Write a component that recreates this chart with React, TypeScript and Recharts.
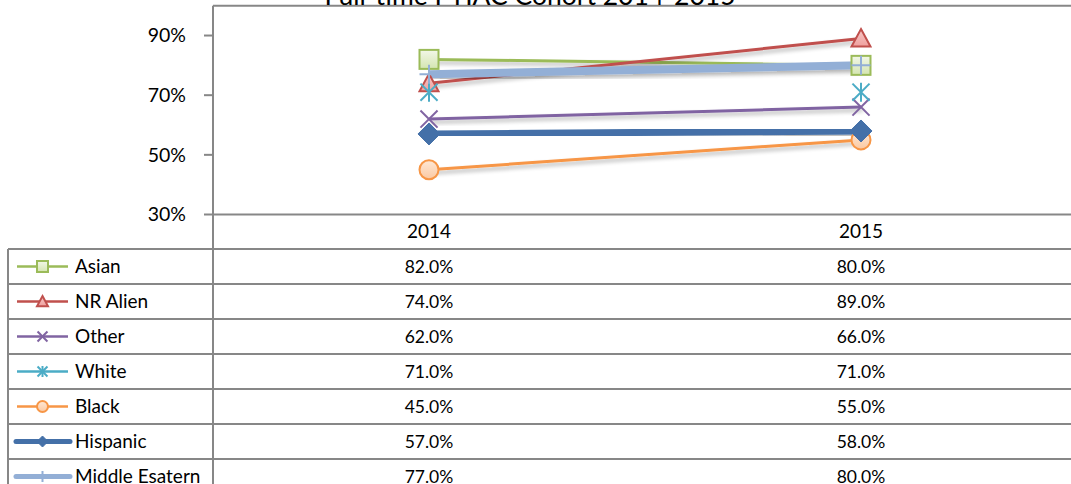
import React from 'react';
import { LineChart, Line, XAxis, YAxis, ReferenceLine } from 'recharts';

const categories = ['2014', '2015'];
const seriesNames = ['Asian', 'NR Alien', 'Other', 'White', 'Black', 'Hispanic', 'Middle Esatern'];
const asian = [82, 80];
const nrAlien = [74, 89];
const other = [62, 66];
const white = [71, 71];
const black = [45, 55];
const hispanic = [57, 58];
const middleEastern = [77, 80];
const yTicks = [30, 50, 70, 90];
const title = 'Full-time FTIAC Cohort 2014-2015';

const seriesValues = [asian, nrAlien, other, white, black, hispanic, middleEastern];

const data = categories.map((c, i) => {
  const row: Record<string, any> = { year: c };
  seriesNames.forEach((n, k) => { row[n] = seriesValues[k][i]; });
  return row;
});

type Style = { color: string; fill: string; width: number; marker: string };
const styles: Style[] = [
  { color: '#9BBB59', fill: 'url(#gGreen)', width: 3, marker: 'square' },
  { color: '#C0504D', fill: 'url(#gRed)', width: 3, marker: 'triangle' },
  { color: '#8064A2', fill: 'none', width: 3, marker: 'x' },
  { color: '#4BACC6', fill: 'none', width: 3, marker: 'star' },
  { color: '#F79646', fill: 'url(#gOrange)', width: 3, marker: 'circle' },
  { color: '#4470A8', fill: '#4470A8', width: 7, marker: 'diamond' },
  { color: '#93AFD6', fill: 'none', width: 8, marker: 'plus' },
];

const FONT = 'Lato, "Open Sans", sans-serif';
const GRID = '#878787';

function marker(kind: string, cx: number, cy: number, s: number, st: Style, key?: any) {
  const h = s / 2;
  const sw = 2;
  switch (kind) {
    case 'square':
      return <rect key={key} x={cx - h} y={cy - h} width={s} height={s} fill={st.fill} stroke={st.color} strokeWidth={sw} />;
    case 'triangle':
      return <polygon key={key} points={`${cx},${cy - h} ${cx + h},${cy + h * 0.85} ${cx - h},${cy + h * 0.85}`} fill={st.fill} stroke={st.color} strokeWidth={sw} strokeLinejoin="miter" />;
    case 'x':
      return (
        <g key={key} stroke={st.color} strokeWidth={sw}>
          <line x1={cx - h * 0.9} y1={cy - h * 0.9} x2={cx + h * 0.9} y2={cy + h * 0.9} />
          <line x1={cx - h * 0.9} y1={cy + h * 0.9} x2={cx + h * 0.9} y2={cy - h * 0.9} />
        </g>
      );
    case 'star':
      return (
        <g key={key} stroke={st.color} strokeWidth={sw}>
          <line x1={cx - h * 0.9} y1={cy - h * 0.9} x2={cx + h * 0.9} y2={cy + h * 0.9} />
          <line x1={cx - h * 0.9} y1={cy + h * 0.9} x2={cx + h * 0.9} y2={cy - h * 0.9} />
          <line x1={cx} y1={cy - h} x2={cx} y2={cy + h} />
        </g>
      );
    case 'circle':
      return <circle key={key} cx={cx} cy={cy} r={h} fill={st.fill} stroke={st.color} strokeWidth={sw} />;
    case 'diamond':
      return <polygon key={key} points={`${cx},${cy - h} ${cx + h},${cy} ${cx},${cy + h} ${cx - h},${cy}`} fill={st.fill} stroke={st.color} strokeWidth={1} />;
    case 'plus':
      return (
        <g key={key} stroke={st.color} strokeWidth={sw}>
          <line x1={cx} y1={cy - h} x2={cx} y2={cy + h} />
          <line x1={cx - h} y1={cy} x2={cx + h} y2={cy} />
        </g>
      );
    default:
      return <g key={key} />;
  }
}

const ROW_TOP = 249;
const ROW_H = 35;
const COL_X = [429, 861];

export default function App() {
  return (
    <div style={{ width: 1071, height: 484, overflow: 'hidden', position: 'relative', background: '#fff' }}>
      <style>{`html, body { margin: 0; padding: 0; } .recharts-line { filter: url(#shadow); }`}</style>
      <svg width={0} height={0} style={{ position: 'absolute' }}>
        <defs>
          <filter id="shadow" x="-10%" y="-50%" width="120%" height="200%">
            <feGaussianBlur in="SourceAlpha" stdDeviation="2" />
            <feOffset dx="2" dy="3" result="ob" />
            <feComponentTransfer>
              <feFuncA type="linear" slope="0.3" />
            </feComponentTransfer>
            <feMerge>
              <feMergeNode />
              <feMergeNode in="SourceGraphic" />
            </feMerge>
          </filter>
          <linearGradient id="gGreen" x1="0" y1="0" x2="0" y2="1">
            <stop offset="0" stopColor="#F2F7E8" />
            <stop offset="1" stopColor="#D4E5B0" />
          </linearGradient>
          <linearGradient id="gRed" x1="0" y1="0" x2="0" y2="1">
            <stop offset="0" stopColor="#F7C9C8" />
            <stop offset="1" stopColor="#EFA09E" />
          </linearGradient>
          <linearGradient id="gOrange" x1="0" y1="0" x2="0" y2="1">
            <stop offset="0" stopColor="#FEE8D6" />
            <stop offset="1" stopColor="#FBC9A2" />
          </linearGradient>
        </defs>
      </svg>
      <div style={{ position: 'absolute', left: 0, top: 0 }}>
        <LineChart
          width={1090}
          height={484}
          data={data}
          margin={{ top: 5.7, right: 13, left: 0, bottom: 239.5 }}
          style={{ fontFamily: FONT }}
        >
          <XAxis
            dataKey="year"
            padding={{ left: 216, right: 216 }}
            height={30}
            tickLine={false}
            tickSize={6}
            tickMargin={4}
            axisLine={{ stroke: GRID, strokeWidth: 2 }}
            tick={{ fontSize: 19, fill: '#000', fontFamily: FONT }}
          />
          <YAxis
            width={213}
            domain={[30, 100]}
            ticks={yTicks}
            tickFormatter={(v: number) => `${v}%`}
            tickSize={9}
            tickMargin={18}
            axisLine={{ stroke: GRID, strokeWidth: 2 }}
            tickLine={{ stroke: GRID, strokeWidth: 2 }}
            tick={{ fontSize: 19.5, fill: '#000', fontFamily: FONT }}
            allowDataOverflow
          />
          <ReferenceLine y={100} stroke={GRID} strokeWidth={2} ifOverflow="visible" />
          {seriesNames.map((n, k) => {
            const st = styles[k];
            return (
              <Line
                key={n}
                dataKey={n}
                stroke={st.color}
                strokeWidth={st.width}
                isAnimationActive={false}
                strokeLinecap="butt"
                dot={(p: any) => marker(st.marker, p.cx, p.cy, st.marker === 'diamond' ? 22 : 19, st, `${n}-${p.index}`)}
                activeDot={false}
              />
            );
          })}
        </LineChart>
      </div>
      <svg width={1071} height={484} style={{ position: 'absolute', left: 0, top: 0, pointerEvents: 'none' }}>
        <text x={530} y={5} textAnchor="middle" fontSize={26.5} fontFamily={FONT} fill="#000">{title}</text>
        <line x1={213} y1={214} x2={213} y2={484} stroke={GRID} strokeWidth={2} />
        <line x1={8} y1={ROW_TOP} x2={8} y2={484} stroke={GRID} strokeWidth={2} />
        {seriesNames.map((n, k) => (
          <line key={`h${k}`} x1={8} y1={ROW_TOP + k * ROW_H} x2={1071} y2={ROW_TOP + k * ROW_H} stroke={GRID} strokeWidth={2} />
        ))}
        {seriesNames.map((n, k) => {
          const st = styles[k];
          const cy = ROW_TOP + k * ROW_H + ROW_H / 2;
          const thick = st.width > 4;
          return (
            <g key={`r${k}`}>
              <line x1={thick ? 16 : 17} y1={cy} x2={thick ? 70 : 68} y2={cy} stroke={st.color} strokeWidth={thick ? 5 : 2.5} strokeLinecap={thick ? 'round' : 'butt'} />
              {marker(st.marker, 42.5, cy, 11, st, 'm')}
              <text x={75} y={cy} dy="0.36em" fontSize={19} fontFamily={FONT} fill="#000">{n}</text>
              {categories.map((c, i) => (
                <text key={c} x={COL_X[i]} y={cy} dy="0.36em" textAnchor="middle" fontSize={17.5} fontFamily={FONT} fill="#000">
                  {`${seriesValues[k][i].toFixed(1)}%`}
                </text>
              ))}
            </g>
          );
        })}
      </svg>
    </div>
  );
}
